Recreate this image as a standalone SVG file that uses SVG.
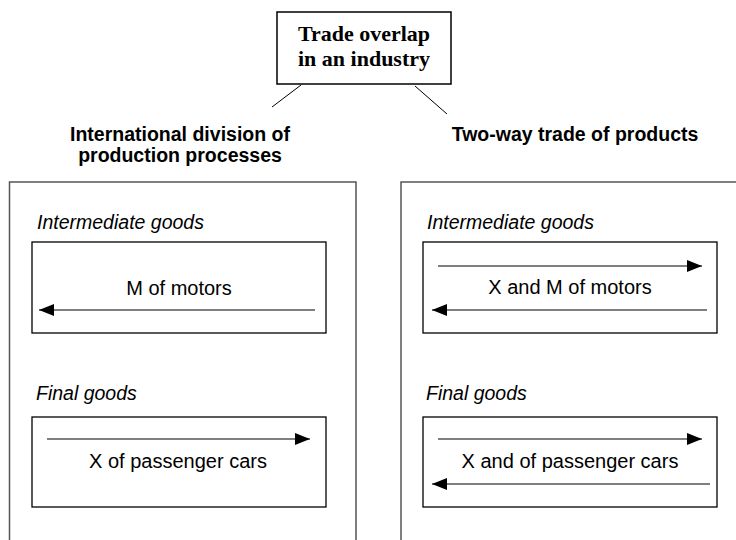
<svg xmlns="http://www.w3.org/2000/svg" width="736" height="540" viewBox="0 0 736 540">
<style>
.title{font-family:"Liberation Serif","Times New Roman",serif;font-weight:bold;font-size:22px;fill:#000}
.head{font-family:"Liberation Sans",Arial,sans-serif;font-weight:bold;font-size:19.5px;fill:#000}
.cat{font-family:"Liberation Sans",Arial,sans-serif;font-style:italic;font-size:19.5px;fill:#000}
.lbl{font-family:"Liberation Sans",Arial,sans-serif;font-size:20px;fill:#000}
.outer{fill:none;stroke:#555;stroke-width:1.5}
.inner{fill:#fff;stroke:#000;stroke-width:1.3}
.flow{stroke:#000;stroke-width:1.2;fill:none;marker-end:url(#ah)}
.link{stroke:#000;stroke-width:1;fill:none}
</style>
<defs>
<marker id="ah" markerUnits="userSpaceOnUse" markerWidth="16" markerHeight="13" refX="15" refY="6" orient="auto">
<path d="M0,0 L15,6 L0,12 Z" fill="#000"/>
</marker>
</defs>
<rect width="736" height="540" fill="#fff"/>
<g id="title">
<rect x="277" y="12" width="174" height="72" fill="#fff" stroke="#000" stroke-width="1.5"/>
<text class="title" x="364" y="41" text-anchor="middle">Trade overlap</text>
<text class="title" x="364" y="66" text-anchor="middle">in an industry</text>
</g>
<g id="left-panel">
<text class="head" x="180" y="141" text-anchor="middle">International division of</text>
<text class="head" x="180" y="162" text-anchor="middle">production processes</text>
<path class="outer" d="M9.5,545 V182 H356 V545"/>
<text class="cat" x="37" y="229">Intermediate goods</text>
<g id="left-intermediate">
<rect class="inner" x="32" y="242" width="294" height="91"/>
<text class="lbl" x="179" y="295" text-anchor="middle">M of motors</text>
</g>
<text class="cat" x="36" y="400">Final goods</text>
<g id="left-final">
<rect class="inner" x="32" y="417" width="294" height="90"/>
<text class="lbl" x="178" y="468" text-anchor="middle">X of passenger cars</text>
</g>
</g>
<g id="right-panel">
<text class="head" x="575" y="141" text-anchor="middle">Two-way trade of products</text>
<path class="outer" d="M401,545 V182 H740"/>
<text class="cat" x="427" y="229">Intermediate goods</text>
<g id="right-intermediate">
<rect class="inner" x="423" y="242" width="294" height="91"/>
<text class="lbl" x="570" y="294" text-anchor="middle">X and M of motors</text>
</g>
<text class="cat" x="426" y="400">Final goods</text>
<g id="right-final">
<rect class="inner" x="423" y="417" width="294" height="90"/>
<text class="lbl" x="570" y="468" text-anchor="middle">X and of passenger cars</text>
</g>
</g>
<g id="connectors">
<line class="link" x1="301" y1="85" x2="272" y2="107"/>
<line class="link" x1="415" y1="86" x2="447" y2="114"/>
<line class="flow" x1="315" y1="310" x2="39" y2="310"/>
<line class="flow" x1="47" y1="439" x2="310" y2="439"/>
<line class="flow" x1="438" y1="266" x2="702" y2="266"/>
<line class="flow" x1="707" y1="310" x2="432" y2="310"/>
<line class="flow" x1="438" y1="439" x2="702" y2="439"/>
<line class="flow" x1="710" y1="484" x2="432" y2="484"/>
</g>
</svg>
